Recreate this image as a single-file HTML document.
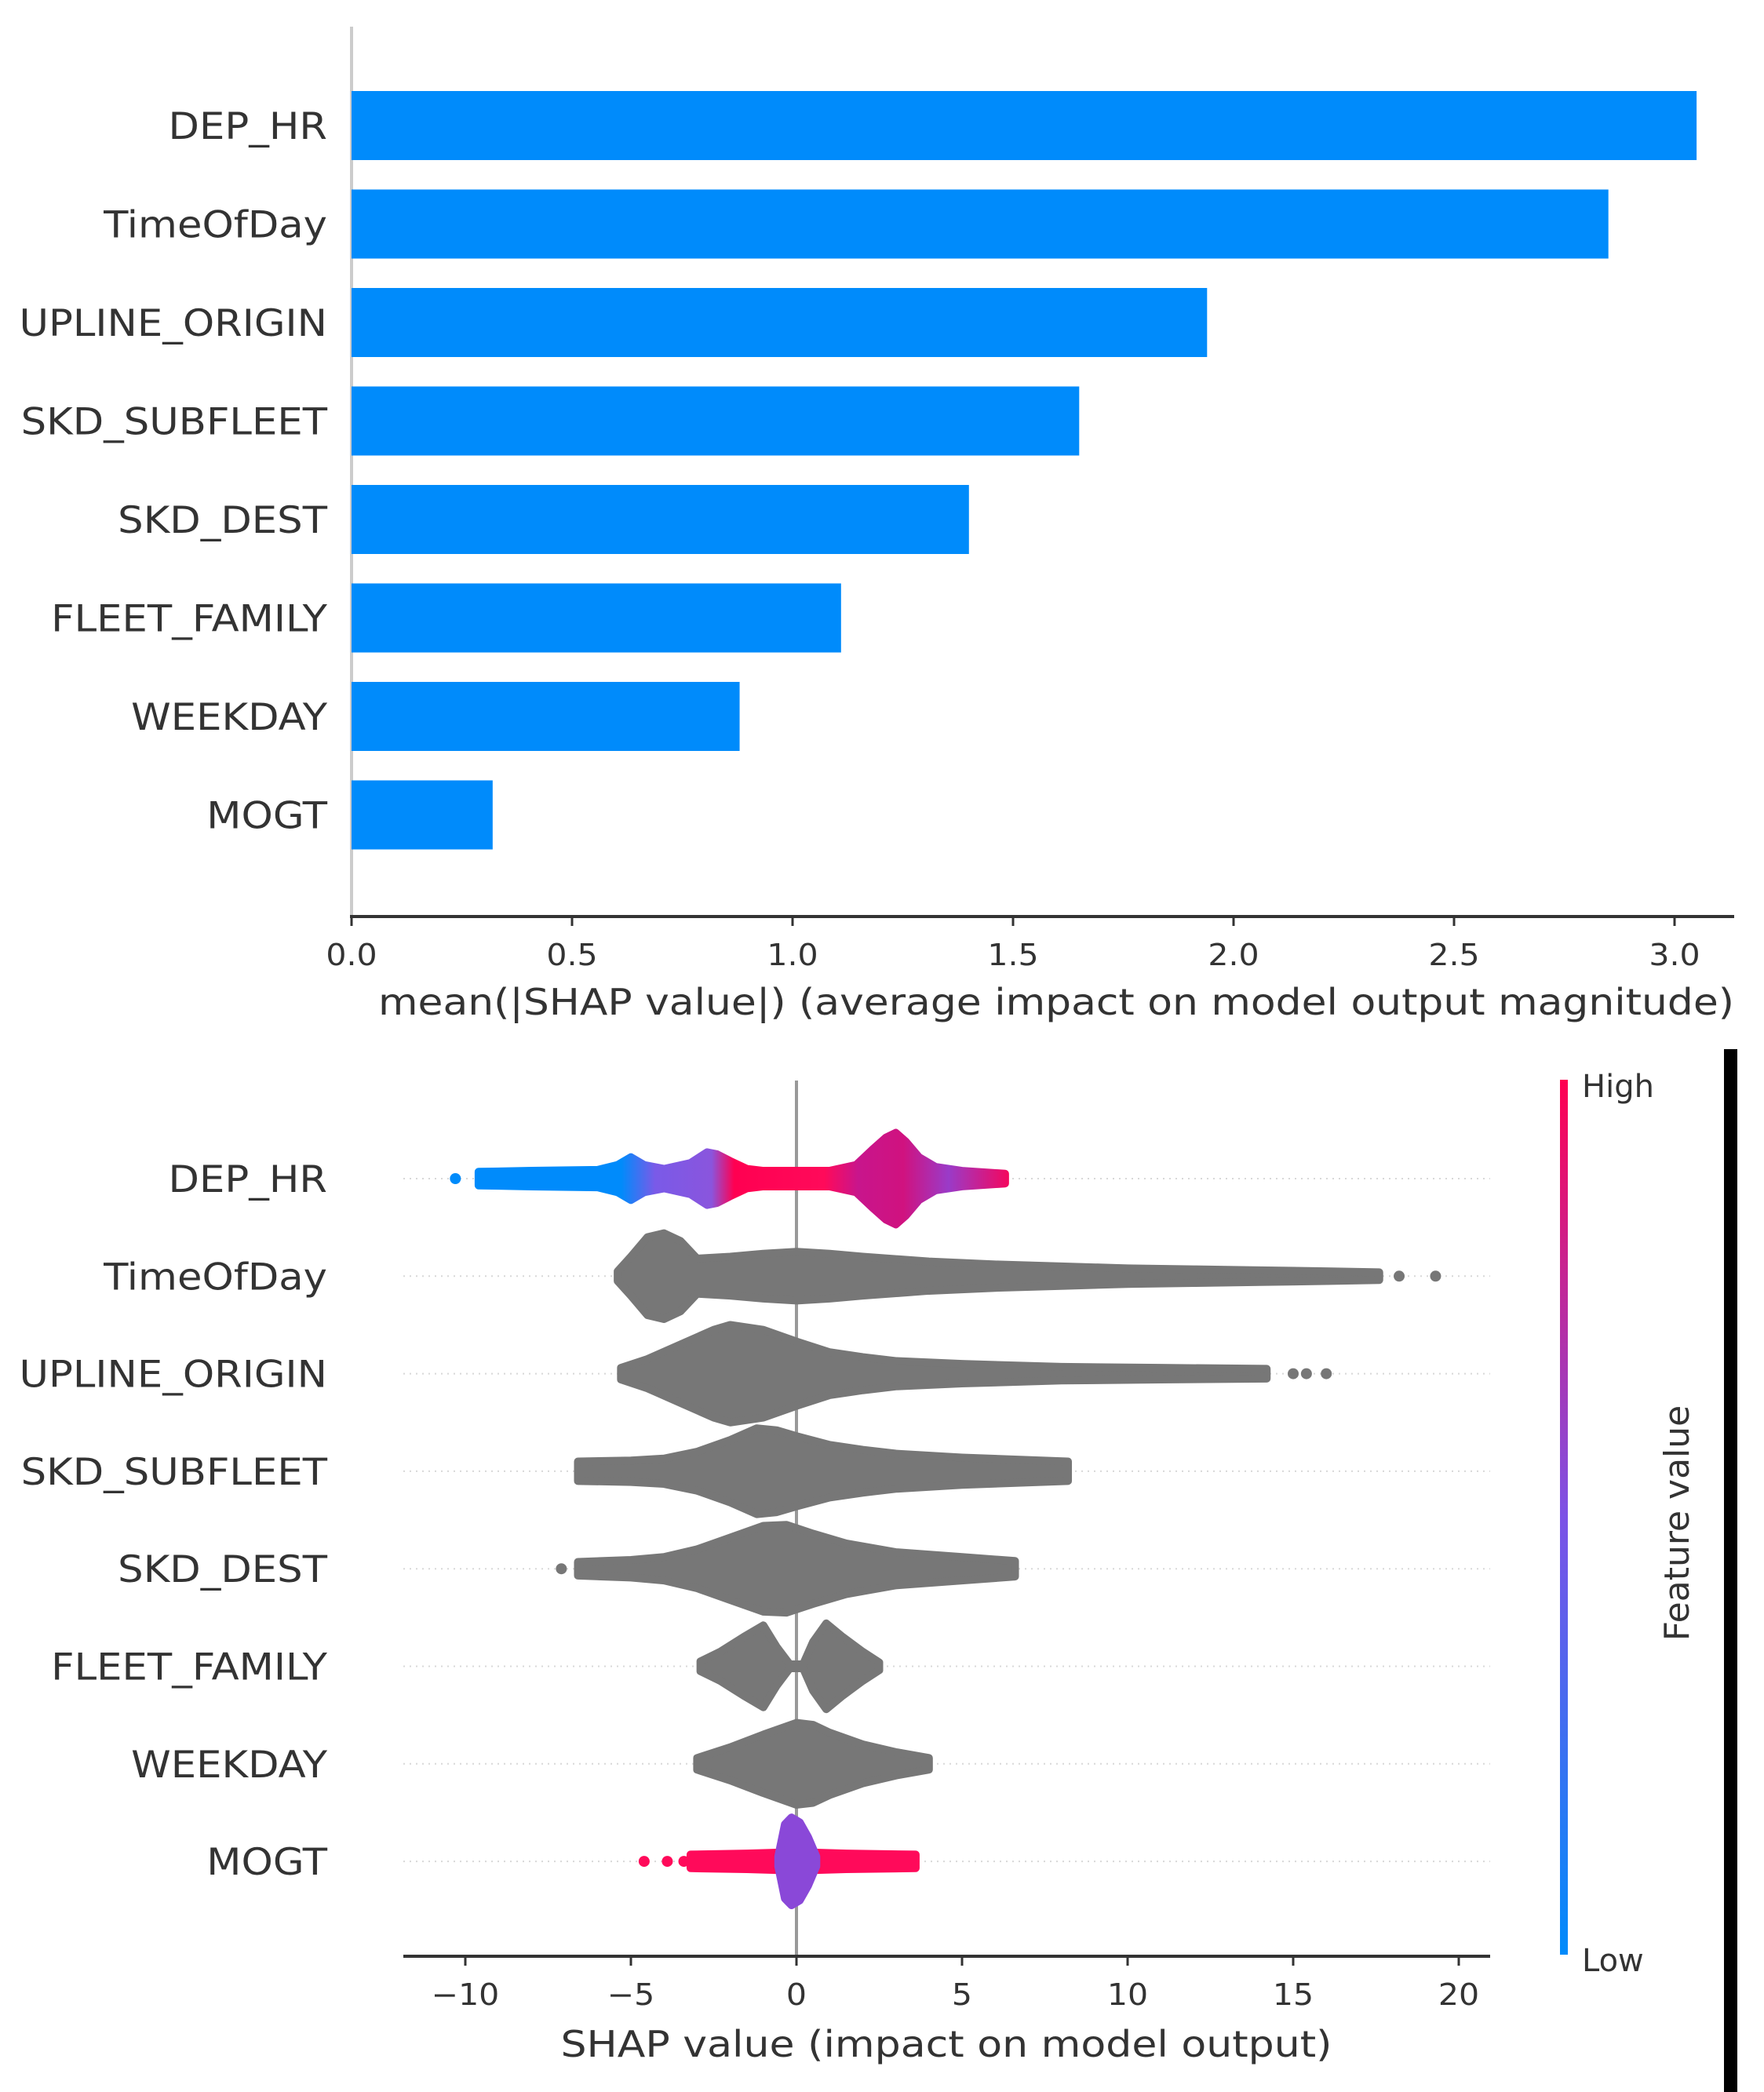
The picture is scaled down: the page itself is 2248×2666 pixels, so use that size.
<!DOCTYPE html>
<html><head><meta charset="utf-8"><style>
html,body{margin:0;padding:0;background:#fff}
svg{display:block}
text{font-family:"DejaVu Sans","Liberation Sans",sans-serif;fill:#333}
</style></head><body>
<svg id="chart" width="2248" height="2666" viewBox="0 0 2248 2666">
<defs>
<linearGradient id="cbar" x1="0" y1="1" x2="0" y2="0">
<stop offset="0" stop-color="#008bfb"/><stop offset="0.5" stop-color="#7c52e6"/><stop offset="1" stop-color="#ff0051"/>
</linearGradient>
<linearGradient id="depGrad" gradientUnits="userSpaceOnUse" x1="576" y1="0" x2="1295" y2="0">
<stop offset="0" stop-color="#008bfb"/><stop offset="0.30" stop-color="#008bfb"/>
<stop offset="0.36" stop-color="#7a5ae8"/><stop offset="0.46" stop-color="#8a55dd"/>
<stop offset="0.50" stop-color="#ff0051"/><stop offset="0.66" stop-color="#ff0a5a"/>
<stop offset="0.72" stop-color="#c8158c"/><stop offset="0.80" stop-color="#d0127f"/>
<stop offset="0.88" stop-color="#9a3bc8"/><stop offset="1" stop-color="#ff0051"/>
</linearGradient>
</defs>
<g id="topChart"></g>
<g id="bottomChart"></g>
<g>
<rect x="1988" y="1376" width="10" height="1115" fill="url(#cbar)"/>
<text x="2016" y="1398" font-size="40">High</text>
<text x="2016" y="2512" font-size="40">Low</text>
<text x="2152" y="1941" font-size="44" text-anchor="middle" transform="rotate(-90 2152 1941)">Feature value</text>
</g>
<rect x="2197" y="1337" width="17" height="1329" fill="#000"/>
</svg>
<script>
const features = ["DEP_HR","TimeOfDay","UPLINE_ORIGIN","SKD_SUBFLEET","SKD_DEST","FLEET_FAMILY","WEEKDAY","MOGT"];
const meanAbs = [3.05,2.85,1.94,1.65,1.40,1.11,0.88,0.32];
const topTicks = [0,0.5,1.0,1.5,2.0,2.5,3.0];
const topTickLabels = ["0.0","0.5","1.0","1.5","2.0","2.5","3.0"];
const botTicks = [-10,-5,0,5,10,15,20];
const botTickLabels = ["\u221210","\u22125","0","5","10","15","20"];
const depX = [-9.6,-8,-6,-5.4,-5,-4.6,-4,-3.2,-2.7,-2.4,-2,-1.5,-1,0,1,1.8,2.3,2.7,3,3.3,3.7,4.2,5,6.3];
const depH = [0.07,0.08,0.09,0.14,0.22,0.14,0.1,0.16,0.27,0.25,0.18,0.1,0.08,0.08,0.08,0.14,0.3,0.42,0.47,0.38,0.22,0.12,0.08,0.05];
const todX = [-5.4,-5,-4.5,-4,-3.5,-3,-2,-1,0,1,2,4,6,8,10,12,14,16,17.6];
const todH = [0.05,0.2,0.4,0.44,0.36,0.18,0.2,0.23,0.25,0.23,0.2,0.15,0.12,0.1,0.08,0.07,0.06,0.05,0.04];
const upX = [-5.3,-4.5,-3.5,-2.5,-2,-1,0,1,2,3,5,8,11,14.2];
const upH = [0.06,0.15,0.3,0.45,0.5,0.45,0.33,0.22,0.17,0.13,0.1,0.07,0.06,0.05];
const subX = [-6.6,-5,-4,-3,-2,-1.2,-0.6,0,1,2,3,5,8.2];
const subH = [0.1,0.11,0.13,0.2,0.32,0.44,0.42,0.36,0.27,0.22,0.18,0.14,0.1];
const destX = [-6.6,-5,-4,-3,-2,-1,-0.3,0.5,1.5,3,5,6.6];
const destH = [0.07,0.09,0.12,0.2,0.32,0.44,0.45,0.36,0.26,0.17,0.12,0.08];
const fleetX = [-2.9,-2.3,-1.6,-1,-0.6,-0.2,0.2,0.5,0.9,1.4,2,2.5];
const fleetH = [0.05,0.15,0.3,0.42,0.2,0.02,0.02,0.25,0.44,0.3,0.15,0.04];
const weekX = [-3,-2,-1,0,0.5,1,2,3,4];
const weekH = [0.06,0.17,0.3,0.42,0.4,0.32,0.2,0.12,0.06];
const mogtBandX = [-3.2,-1.5,-0.5,0.5,1.5,3.6];
const mogtBandH = [0.07,0.08,0.09,0.09,0.08,0.07];
const mogtCoreX = [-0.55,-0.35,-0.15,0.1,0.35,0.6];
const mogtCoreH = [0.05,0.38,0.45,0.4,0.25,0.05];
const outTod = [18.2,19.3];
const outUp = [15.0,15.4,16.0];
const outDest = [-7.1];
const outDep = [-10.3];
const outMogt = [-4.6,-3.9,-3.4];

const NS="http://www.w3.org/2000/svg";
function mk(tag,attrs,parent,txt){const e=document.createElementNS(NS,tag);for(const k in attrs)e.setAttribute(k,attrs[k]);if(txt!==undefined)e.textContent=txt;parent.appendChild(e);return e;}
function widen(t,f){const w=t.getComputedTextLength();t.setAttribute('textLength',w*f);t.setAttribute('lengthAdjust','spacingAndGlyphs');}

const topG=document.getElementById('topChart');
const tx=v=>448+v*562;
const ty=i=>160+i*125.5;
const l1=mk('line',{x1:448,y1:34,x2:448,y2:1168,stroke:'#cccccc','stroke-width':4},topG);


features.forEach((f,i)=>{
  const r=mk('rect',{x:tx(0),y:ty(i)-44,width:tx(meanAbs[i])-tx(0),height:88,fill:'#008bfb'},topG);
  
  
  const t=mk('text',{x:417,y:ty(i)+17,'font-size':47,'text-anchor':'end'},topG,f);
  
  
  widen(t,1.09);
});
const ax1=mk('line',{x1:446,y1:1168,x2:2210,y2:1168,stroke:'#333','stroke-width':4},topG);


topTicks.forEach((v,i)=>{
  const tk=mk('line',{x1:tx(v),y1:1168,x2:tx(v),y2:1180,stroke:'#333','stroke-width':3},topG);
  
  
  const t=mk('text',{x:tx(v),y:1230,'font-size':38,'text-anchor':'middle'},topG,topTickLabels[i]);
  
  
  widen(t,1.08);
});
const tt=mk('text',{x:1346,y:1293,'font-size':46,'text-anchor':'middle',textLength:1728,lengthAdjust:'spacingAndGlyphs'},topG,'mean(|SHAP value|) (average impact on model output magnitude)');



const botG=document.getElementById('bottomChart');
const bx=v=>1015+v*42.2;
const ROW=124.3;
const by=i=>1502+i*ROW;
function profPath(xs,hs,i){
  const c=by(i);let d='M'+bx(xs[0])+','+c;
  xs.forEach((x,k)=>{d+=' L'+bx(x)+','+(c-hs[k]*ROW);});
  d+=' L'+bx(xs[xs.length-1])+','+c;
  for(let k=xs.length-1;k>=0;k--){d+=' L'+bx(xs[k])+','+(c+hs[k]*ROW);}
  return d+' Z';
}
features.forEach((f,i)=>{
  const g=mk('line',{x1:514,y1:by(i),x2:1899,y2:by(i),stroke:'#d8d8d8','stroke-width':2,'stroke-dasharray':'2,6'},botG);
  
  
  const t=mk('text',{x:417,y:by(i)+17,'font-size':47,'text-anchor':'end'},botG,f);
  
  
  widen(t,1.09);
});
const z=mk('line',{x1:bx(0),y1:1377,x2:bx(0),y2:2493,stroke:'#999','stroke-width':4},botG);


function swarm(xs,hs,i,fill,name){
  const p=mk('path',{d:profPath(xs,hs,i),fill:fill,stroke:fill,'stroke-width':10,'stroke-linejoin':'round'},botG);
  
  
}
function outs(arr,i,fill,name){
  arr.forEach(v=>{
    const c=mk('circle',{cx:bx(v),cy:by(i),r:7,fill:fill},botG);
    
    
  });
}
const GRAY='#777777';
swarm(depX,depH,0,'url(#depGrad)','swarm-dep-hr');
outs(outDep,0,'#008bfb','outlier-dep-hr');
swarm(todX,todH,1,GRAY,'swarm-timeofday');
outs(outTod,1,GRAY,'outlier-timeofday');
swarm(upX,upH,2,GRAY,'swarm-upline-origin');
outs(outUp,2,GRAY,'outlier-upline-origin');
swarm(subX,subH,3,GRAY,'swarm-skd-subfleet');
swarm(destX,destH,4,GRAY,'swarm-skd-dest');
outs(outDest,4,GRAY,'outlier-skd-dest');
swarm(fleetX,fleetH,5,GRAY,'swarm-fleet-family');
swarm(weekX,weekH,6,GRAY,'swarm-weekday');
swarm(mogtBandX,mogtBandH,7,'#ff0a5a','swarm-mogt-band');
outs(outMogt,7,'#ff0a5a','outlier-mogt');
swarm(mogtCoreX,mogtCoreH,7,'#8a48d8','swarm-mogt-core');

const ax2=mk('line',{x1:514,y1:2493,x2:1899,y2:2493,stroke:'#333','stroke-width':4},botG);


botTicks.forEach((v,i)=>{
  const tk=mk('line',{x1:bx(v),y1:2493,x2:bx(v),y2:2505,stroke:'#333','stroke-width':3},botG);
  
  
  const t=mk('text',{x:bx(v),y:2555,'font-size':38,'text-anchor':'middle'},botG,botTickLabels[i]);
  
  
  widen(t,1.08);
});
const bt=mk('text',{x:1206,y:2621,'font-size':46,'text-anchor':'middle',textLength:983,lengthAdjust:'spacingAndGlyphs'},botG,'SHAP value (impact on model output)');


</script>
</body></html>
